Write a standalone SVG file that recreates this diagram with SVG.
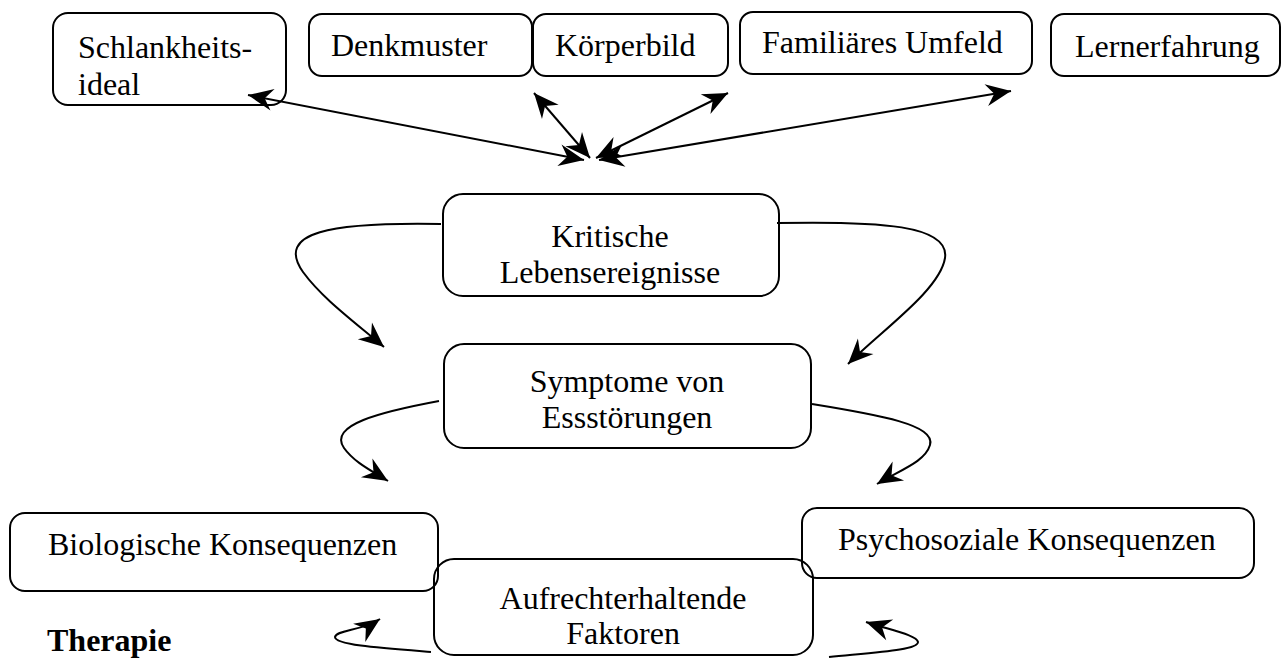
<svg xmlns="http://www.w3.org/2000/svg" width="1285" height="660" viewBox="0 0 1285 660">
  <style>
    .box { fill: none; stroke: #000; stroke-width: 2; }
    .t { font-family: "Liberation Serif", "Times New Roman", serif; font-size: 32px; fill: #000; }
    .c { text-anchor: middle; }
    .b { font-weight: bold; }
    .conn { fill: none; stroke: #000; stroke-width: 2; }
  </style>
  <defs>
    <marker id="ah" viewBox="-28 -14 30 28" refX="0" refY="0" markerWidth="30" markerHeight="28" markerUnits="userSpaceOnUse" orient="auto-start-reverse">
      <path d="M0,0 L-25,-11 L-17,0 L-25,11 Z" fill="#000"/>
    </marker>
  </defs>
  <rect width="1285" height="660" fill="#fff"/>

  <g id="n-schlankheitsideal">
    <rect class="box" x="53" y="13" width="233" height="92" rx="15"/>
    <text class="t" x="78" y="58">Schlankheits-</text>
    <text class="t" x="78" y="95">ideal</text>
  </g>
  <g id="n-denkmuster">
    <rect class="box" x="309" y="14" width="223" height="62" rx="13"/>
    <text class="t" x="331" y="56">Denkmuster</text>
  </g>
  <g id="n-koerperbild">
    <rect class="box" x="533" y="14" width="195" height="62" rx="13"/>
    <text class="t" x="555" y="56">Körperbild</text>
  </g>
  <g id="n-familiaeres-umfeld">
    <rect class="box" x="740" y="12" width="292" height="62" rx="13"/>
    <text class="t" x="762" y="53">Familiäres Umfeld</text>
  </g>
  <g id="n-lernerfahrung">
    <rect class="box" x="1051" y="14" width="229" height="62" rx="13"/>
    <text class="t" x="1075" y="57">Lernerfahrung</text>
  </g>
  <g id="n-kritische-lebensereignisse">
    <rect class="box" x="443" y="194" width="336" height="102" rx="20"/>
    <text class="t c" x="610" y="247">Kritische</text>
    <text class="t c" x="610" y="283">Lebensereignisse</text>
  </g>
  <g id="n-symptome">
    <rect class="box" x="444" y="344" width="367" height="104" rx="20"/>
    <text class="t c" x="627" y="392">Symptome von</text>
    <text class="t c" x="627" y="428">Essstörungen</text>
  </g>
  <g id="n-biologische-konsequenzen">
    <rect class="box" x="10" y="513" width="428" height="78" rx="15"/>
    <text class="t" x="48" y="555">Biologische Konsequenzen</text>
  </g>
  <g id="n-psychosoziale-konsequenzen">
    <rect class="box" x="802" y="508" width="452" height="70" rx="15"/>
    <text class="t" x="838" y="550">Psychosoziale Konsequenzen</text>
  </g>
  <g id="n-aufrechterhaltende-faktoren">
    <rect class="box" x="434" y="559" width="379" height="96" rx="20"/>
    <text class="t c" x="623" y="609">Aufrechterhaltende</text>
    <text class="t c" x="623" y="644">Faktoren</text>
  </g>
  <g id="n-therapie">
    <text class="t b" x="47" y="651">Therapie</text>
  </g>

  <g id="connectors">
    <line class="conn" x1="248" y1="95" x2="584" y2="160" marker-start="url(#ah)" marker-end="url(#ah)"/>
    <line class="conn" x1="534" y1="93" x2="590" y2="158" marker-start="url(#ah)" marker-end="url(#ah)"/>
    <line class="conn" x1="728" y1="93" x2="596" y2="158" marker-start="url(#ah)" marker-end="url(#ah)"/>
    <line class="conn" x1="1011" y1="91" x2="599" y2="160" marker-start="url(#ah)" marker-end="url(#ah)"/>

    <path class="conn" d="M441,224 C 330,222 275,232 303,272 C 322,298 352,320 384,347" marker-end="url(#ah)"/>
    <path class="conn" d="M777,223 C 880,221 950,225 945,258 C 940,290 882,330 848,364" marker-end="url(#ah)"/>
    <path class="conn" d="M439,401 C 380,412 328,425 344,448 C 354,462 370,470 388,481" marker-end="url(#ah)"/>
    <path class="conn" d="M812,404 C 880,415 936,425 930,445 C 925,462 900,470 877,484" marker-end="url(#ah)"/>
    <path class="conn" d="M431,652 C 380,648 335,645 335,637 C 336,630 362,631 380,619" marker-end="url(#ah)"/>
    <path class="conn" d="M829,657 C 880,652 918,650 918,642 C 917,635 890,630 866,622" marker-end="url(#ah)"/>
  </g>
</svg>
